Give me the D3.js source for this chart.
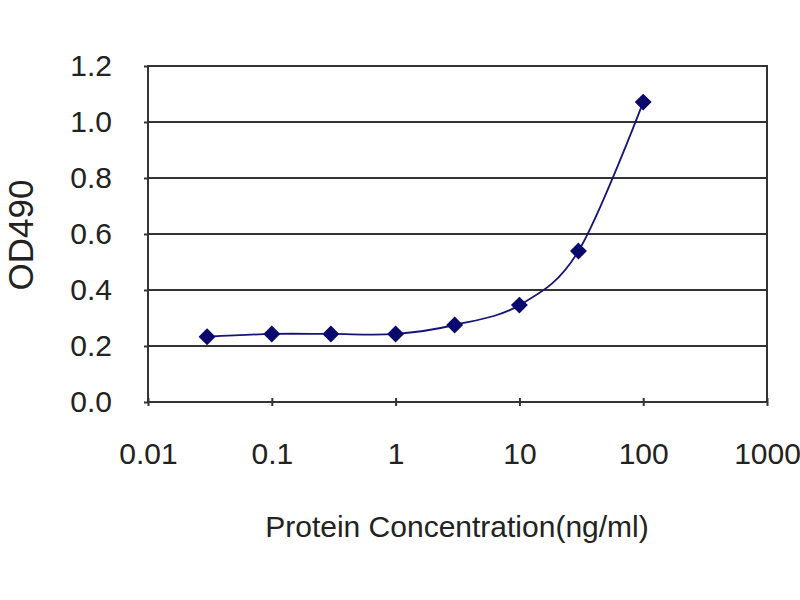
<!DOCTYPE html>
<html>
<head>
<meta charset="utf-8">
<script src="https://cdn.jsdelivr.net/npm/d3@7"></script>
<style>
  body { margin: 0; background: #fff; }
  text { font-family: Arial, "Liberation Sans", sans-serif; fill: #222; }
</style>
</head>
<body>
<div id="chart"></div>
<script>
// Concentrations (ng/ml) and measured OD490
const concentrations = [0.03, 0.1, 0.3, 1, 3, 10, 30, 100];
const od490 = [0.233, 0.243, 0.243, 0.243, 0.275, 0.346, 0.539, 1.071];
const xTicks = [0.01, 0.1, 1, 10, 100, 1000];
const xTickLabels = ["0.01", "0.1", "1", "10", "100", "1000"];
const yTicks = [0, 0.2, 0.4, 0.6, 0.8, 1.0, 1.2];

const width = 800;
const height = 600;
const margin = {top: 66, right: 33, bottom: 198, left: 148};

const svg = d3.select("#chart").append("svg")
    .attr("width", width)
    .attr("height", height);

const x = d3.scaleLog()
    .domain([0.01, 1000])
    .range([margin.left, width - margin.right]);

const y = d3.scaleLinear()
    .domain([0, 1.2])
    .range([height - margin.bottom, margin.top]);

// horizontal gridlines
svg.append("g")
    .selectAll("line")
    .data(yTicks)
    .join("line")
    .attr("x1", margin.left)
    .attr("x2", width - margin.right)
    .attr("y1", d => y(d))
    .attr("y2", d => y(d))
    .attr("stroke", "#333")
    .attr("stroke-width", 2);

// plot border
svg.append("rect")
    .attr("x", margin.left)
    .attr("y", margin.top)
    .attr("width", width - margin.left - margin.right)
    .attr("height", height - margin.top - margin.bottom)
    .attr("fill", "none")
    .attr("stroke", "#333")
    .attr("stroke-width", 2);

// y axis
const yAxis = svg.append("g")
    .attr("transform", `translate(${margin.left},0)`)
    .call(d3.axisLeft(y).tickValues(yTicks).tickFormat(d3.format(".1f")).tickSize(4).tickPadding(32));
yAxis.select(".domain").remove();
yAxis.selectAll("line").attr("stroke", "#333").attr("stroke-width", 2);
yAxis.selectAll("text")
    .style("font-size", "30px")
    .attr("fill", "#222");

// x axis
const xAxis = svg.append("g")
    .attr("transform", `translate(0,${height - margin.bottom})`)
    .call(d3.axisBottom(x).tickValues(xTicks).tickFormat((d, i) => xTickLabels[i]).tickSize(4).tickPadding(37));
xAxis.select(".domain").remove();
xAxis.selectAll("line").attr("stroke", "#333").attr("stroke-width", 2).attr("y1", -4);
xAxis.selectAll("text")
    .style("font-size", "30px")
    .attr("fill", "#222");

// axis titles
svg.append("text")
    .attr("x", 457)
    .attr("y", 537)
    .attr("text-anchor", "middle")
    .style("font-size", "30px")
    .text("Protein Concentration(ng/ml)");

svg.append("text")
    .attr("transform", "translate(33,235) rotate(-90)")
    .attr("text-anchor", "middle")
    .style("font-size", "35px")
    .text("OD490");

// smoothed curve
const points = concentrations.map((c, i) => [c, od490[i]]);
const line = d3.line()
    .x(d => x(d[0]))
    .y(d => y(d[1]))
    .curve(d3.curveCatmullRom.alpha(0));

svg.append("path")
    .datum(points)
    .attr("d", line)
    .attr("fill", "none")
    .attr("stroke", "#14147a")
    .attr("stroke-width", 1.8);

// diamond markers
svg.append("g")
    .selectAll("path")
    .data(points)
    .join("path")
    .attr("transform", d => `translate(${x(d[0])},${y(d[1])})`)
    .attr("d", d3.symbol(d3.symbolDiamond2, 140))
    .attr("fill", "#0a0a6e")
    .attr("stroke", "#0a0a6e")
    .attr("stroke-width", 1.5);
</script>
</body>
</html>
